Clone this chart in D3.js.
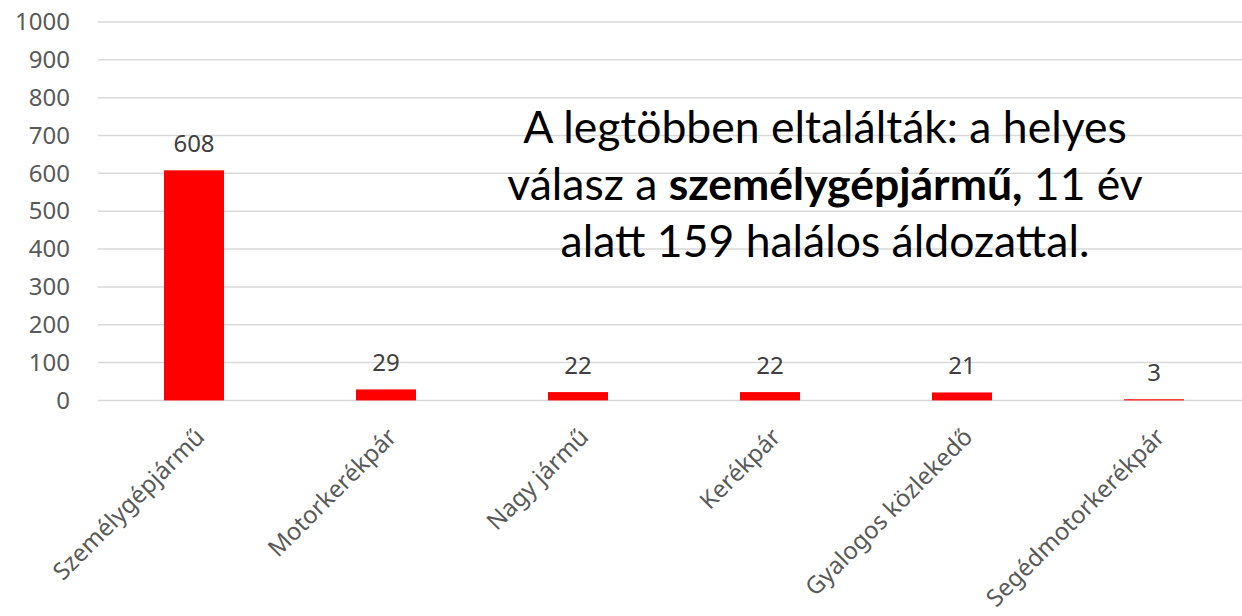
<!DOCTYPE html>
<html>
<head>
<meta charset="utf-8">
<script src="https://cdn.jsdelivr.net/npm/d3@7"></script>
<style>
  body { margin: 0; background: #fff; }
  svg { display: block; }
</style>
</head>
<body>
<svg class="chart"></svg>
<script>
const categories = ["Személygépjármű", "Motorkerékpár", "Nagy jármű", "Kerékpár", "Gyalogos közlekedő", "Segédmotorkerékpár"];
const values = [608, 29, 22, 22, 21, 3];
const yTicks = [0, 100, 200, 300, 400, 500, 600, 700, 800, 900, 1000];

let width = 1242,
    height = 616,
    margin = {top: 22, left: 98, bottom: 216};
let plotRight = margin.left + 192 * categories.length;
let labelFont = "'Noto Sans', 'Open Sans', sans-serif";

let svg = d3.select(".chart")
    .attr("width", width)
    .attr("height", height);

let x = d3.scaleBand()
    .domain(categories)
    .range([margin.left, plotRight])
    .paddingInner(0.6875)
    .paddingOuter(0.34375);

let y = d3.scaleLinear()
    .domain([0, 1000])
    .range([height - margin.bottom + 0.4, margin.top]);

// grid lines
svg.append("g")
    .selectAll("line")
    .data(yTicks)
    .enter().append("line")
    .attr("x1", margin.left)
    .attr("x2", plotRight)
    .attr("y1", d => y(d))
    .attr("y2", d => y(d))
    .attr("stroke", "#d9d9d9")
    .attr("stroke-width", 1.5);

// y axis labels
let yAxis = d3.axisLeft(y).tickValues(yTicks).tickFormat(d3.format("d")).tickSize(0).tickPadding(0);
let yg = svg.append("g")
    .attr("transform", "translate(70,0)")
    .call(yAxis);
yg.select(".domain").remove();
yg.attr("font-family", null).attr("font-size", null);
yg.selectAll("text")
    .style("font-family", labelFont)
    .style("font-size", "24px")
    .attr("fill", "#595959");

// bars
svg.append("g")
    .selectAll("rect")
    .data(values)
    .enter().append("rect")
    .attr("x", (d, i) => x(categories[i]))
    .attr("width", x.bandwidth())
    .attr("y", d => y(d))
    .attr("height", d => y(0) - y(d))
    .attr("fill", "#ff0000");

// value labels
svg.append("g")
    .selectAll("text")
    .data(values)
    .enter().append("text")
    .attr("x", (d, i) => x(categories[i]) + x.bandwidth() / 2)
    .attr("y", d => y(d) - 18)
    .attr("text-anchor", "middle")
    .style("font-family", labelFont)
    .style("font-size", "24px")
    .attr("fill", "#404040")
    .text(d => d);

// category labels
svg.append("g")
    .selectAll("text")
    .data(categories)
    .enter().append("text")
    .attr("transform", d => "translate(" + (x(d) + x.bandwidth() / 2 + 12) + "," + (y(0) + 38) + ") rotate(-45)")
    .attr("text-anchor", "end")
    .style("font-family", labelFont)
    .style("font-size", "24px")
    .attr("fill", "#595959")
    .text(d => d);

// annotation
let note = svg.append("text")
    .attr("text-anchor", "middle")
    .style("font-family", "Lato, sans-serif")
    .style("font-size", "44.5px")
    .attr("fill", "#000");
note.append("tspan").attr("x", 825).attr("y", 143).text("A legtöbben eltalálták: a helyes");
let l2 = note.append("tspan").attr("x", 825).attr("y", 200);
l2.append("tspan").text("válasz a ");
l2.append("tspan").attr("font-weight", "bold").text("személygépjármű,");
l2.append("tspan").text(" 11 év");
note.append("tspan").attr("x", 825).attr("y", 257).text("alatt 159 halálos áldozattal.");
</script>
</body>
</html>
